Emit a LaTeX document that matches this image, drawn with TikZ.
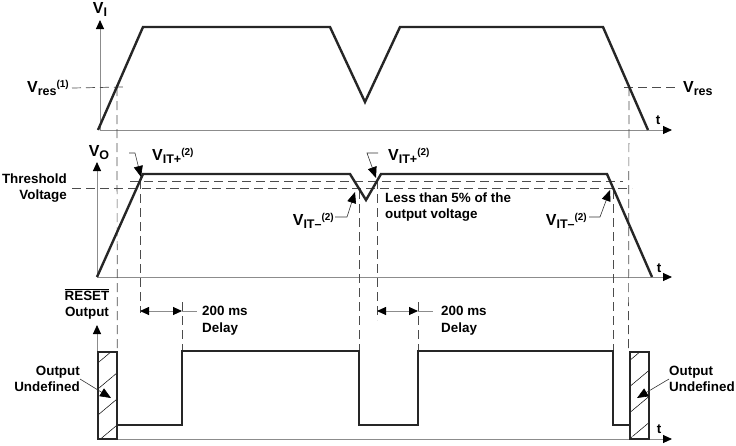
\documentclass[tikz,border=0pt]{standalone}
\usepackage{fontspec}
\setmainfont{Liberation Sans}
\usetikzlibrary{arrows.meta,patterns.meta}
\providecommand{\ovl}[1]{$\overline{\mbox{#1}}$}
\providecommand{\vsig}[2]{{\fontsize{16}{16}\selectfont V}\raisebox{-3pt}{\fontsize{12.5}{12.5}\selectfont #1}\raisebox{5pt}{\fontsize{10}{10}\selectfont #2}}

\begin{document}
\begin{tikzpicture}[x=1pt,y=-1pt,
  every node/.style={font=\bfseries\fontsize{13.4}{16.5}\selectfont,inner sep=0pt},
  axis/.style={draw=black!45,line width=0.9pt,-{Triangle[color=black,length=9pt,width=8pt]}},
  wave/.style={draw=black!85,line width=2.4pt,line join=miter},
  guide/.style={draw=black!70,line width=0.7pt,dash pattern=on 9pt off 5pt},
  leader/.style={draw=black!80,line width=0.6pt,-{Triangle[color=black,length=11pt,width=9pt]}},
  delay/.style={draw=black!45,line width=0.9pt,{Triangle[color=black,length=9pt,width=8pt]}-{Triangle[color=black,length=9pt,width=8pt]}},
  undef/.style={draw=black!85,line width=2pt,minimum width=19pt,minimum height=87pt,
    pattern={Lines[angle=40,distance=20pt,line width=0.5pt]}}]
  \useasboundingbox (0,0) rectangle (736,445);

  \node (vi) at (100,9) {\vsig{I}{}};
  \node (vo) at (99,153) {\vsig{O}{}};
  \node[align=center] (rst) at (87,304) {\ovl{RESET}\\Output};
  \node (t1) at (658,120) {t};
  \node (t2) at (659,268) {t};
  \node (t3) at (659,429) {t};

  \coordinate (o1) at (100,130);
  \coordinate (o2) at (97,277);
  \coordinate (o3) at (97,439);
  \draw[axis] (o1) -- (100,20);
  \draw[axis] (o1) -- (672,130);
  \draw[axis] (o2) -- (97,162);
  \draw[axis] (o2) -- (672,277);
  \draw[axis] (o3) -- (97,325);
  \draw[axis] (o3) -- (672,439);

  \node[anchor=east] (vres1) at (69,88) {\vsig{res}{(1)}};
  \node[anchor=west] (vres2) at (683,89) {\vsig{res}{}};
  \node[anchor=east,align=right] (thr) at (67,188) {Threshold\\Voltage};
  \node[anchor=west,align=left] (less) at (385,207) {Less than 5\% of the\\output voltage};
  \node[anchor=west] (vitp1) at (152,156) {\vsig{IT+}{(2)}};
  \node[anchor=west] (vitp2) at (388,156) {\vsig{IT+}{(2)}};
  \node[anchor=east] (vitm1) at (334,221) {\vsig{IT--}{(2)}};
  \node[anchor=east] (vitm2) at (587,221) {\vsig{IT--}{(2)}};
  \node[anchor=north west,align=left] (dly1) at (202,306) {200 ms\\Delay};
  \node[anchor=north west,align=left] (dly2) at (441,306) {200 ms\\Delay};
  \node[anchor=east,align=right] (oul) at (80,379) {Output\\Undefined};
  \node[anchor=west,align=left] (our) at (669,379) {Output\\Undefined};

  \node[undef] (u1) at (107.5,395.5) {};
  \node[undef] (u2) at (639,395.5) {};

  \draw[guide] (vres1.east) ++(3,0) -- (123,87);
  \draw[guide] (624,87) -- ++(53,0);
  \draw[guide] (thr.east) ++(5,0) -- (632,188);
  \draw[guide] (130,181) -- (623,181);
  \draw[guide] (117,87) -- (u1.north east);
  \draw[guide] (629,87) -- (u2.north west);
  \draw[guide] (140,180) -- (140,313);
  \draw[guide] (182,302) -- (182,351);
  \draw[guide] (359,190) -- (359,351);
  \draw[guide] (377,180) -- (377,320);
  \draw[guide] (418,302) -- (418,351);
  \draw[guide] (613,190) -- (613,351);

  \draw[wave] (98,130) -- (143,27) -- (330,27) -- (365,102) -- (400,27) -- (603,27) -- (648,130);
  \draw[wave] (97,277) -- (143,174) -- (350,174) -- (366,200) -- (381,174) -- (607,174) -- (652,277);
  \draw[wave] (u1.east |- 0,425) -- (182,425) -- (182,351) -- (359,351) -- (359,425)
    -- (418,425) -- (418,351) -- (613,351) -- (613,425) -- (u2.west |- 0,425);

  \draw[leader] (129,153) -- (135,153) -- (141,177);
  \draw[leader] (378,153) -- (367,153) -- (376,178);
  \draw[leader] (vitm1.east) ++(1,-4) -- (347,217) -- (355,192);
  \draw[leader] (vitm2.east) ++(2,-4) -- (600,217) -- (610,190);
  \draw[leader] (oul.east) -- (111,398);
  \draw[leader] (our.west) -- (637,398);

  \draw[delay] (140,311) -- (182,311);
  \draw[draw=black!45,line width=0.9pt] (182,311) -- (197,311);
  \draw[delay] (377,311) -- (418,311);
  \draw[draw=black!45,line width=0.9pt] (418,311) -- (433,311);
\end{tikzpicture}
\end{document}
